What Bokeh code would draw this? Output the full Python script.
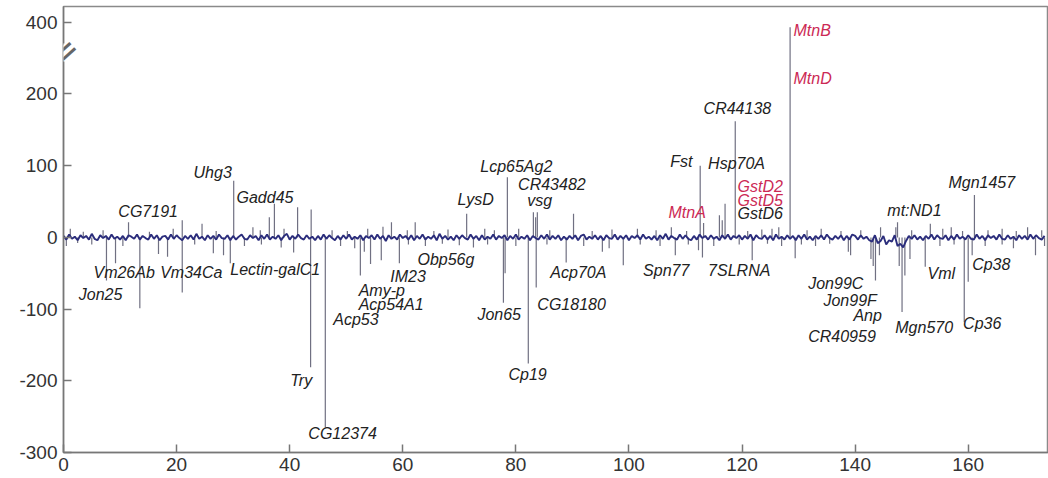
import numpy as np
from bokeh.plotting import figure
from bokeh.models import ColumnDataSource, FixedTicker, Label
from bokeh.core.properties import value
from bokeh.embed import file_html
from bokeh.resources import INLINE

# ---------------- data ----------------
# baseline noise (one value every half map unit, 0..173.5)
baseline_y = [
    2, -3, 4, -2, 1, -4, 3, -1, 2, -3, 5, -2, -4, 3, -1, 2, -3, 4, -2, 1,
    -3, 2, -4, 3, 1, -2, 4, -3, 2, -1, -3, 4, -2, 3, -4, 1, 2, -3, 4, -2,
    3, -1, -4, 2, -2, 3, -3, 5, -2, 1, -4, 3, -2, 2, -3, 4, -1, -2, 3, -4,
    2, -3, 1, 4, -2, -3, 3, -1, 2, -4, 3, -2, 4, -3, 1, -2, 3, -4, 2, 5,
    -3, 2, -2, 4, -1, -3, 3, -2, 1, -4, 2, -3, 4, -2, 3, -1, -4, 2, -3, 3,
    -2, 4, -3, 1, -2, 3, -4, 2, -1, 3, -3, 4, -2, 2, -5, 3, -2, 1, -3, 4,
    -1, 2, -3, 3, -4, 2, -2, 4, -3, 1, -2, 3, -4, 5, -2, 2, -3, 1, -4, 3,
    -2, 3, -1, -3, 4, -2, 2, -4, 3, -3, 1, -2, 4, -3, 2, -1, 3, -4, 2, -2,
    4, -3, 1, -2, 3, -4, 2, -1, -3, 3, -2, 4, -3, 2, -2, 3, -4, 1, -3, 2,
    -2, 3, -4, 2, 4, -3, 1, -2, 3, -3, 2, -4, 3, -1, -2, 4, -3, 2, -2, 3,
    -4, 2, -1, 3, -3, 4, -2, 1, -3, 2, -4, 3, -2, 5, -3, 2, -1, -3, 4, -2,
    3, -2, -4, 2, -3, 4, -1, 2, -3, 3, -2, 1, -4, 3, -2, 4, -3, 2, -1, 3,
    -3, 2, -2, 4, -4, 3, -1, -2, 3, -3, 2, -4, 4, -2, 1, -3, 3, -2, 2, -4,
    3, -2, 4, -3, 1, -4, 2, -2, 3, -3, 4, -1, -3, 2, -2, 3, -4, 2, -3, 4,
    2, -3, 3, -2, 1, -4, -6, 3, -8, -5, 2, -10, -4, -6, 3, -12, -9, -14, -5, 2,
    -2, 3, -3, 1, -4, 2, -2, 4, -3, 3, -1, -2, 3, -4, 2, -3, 4, -2, 1, -3,
    3, -2, -3, 4, -2, 2, -4, 3, -1, 2, -3, 4, -2, -3, 3, -2, 1, -4, 3, -2,
    2, -3, 4, -2, 3, -1, -3, 2,
]
baseline_x = [i / 2 for i in range(len(baseline_y))]

# up-regulated spikes (position, value)
up_x = [1.2, 3.5, 7.0, 11.5, 15.2, 19.4, 21.0, 24.5, 27.0, 30.1, 33.5, 34.8, 36.4, 37.3,
        39.0, 41.4, 43.8, 47.5, 50.2, 53.8, 56.5, 58.0, 60.8, 62.2, 65.5, 68.0, 71.3,
        74.5, 76.2, 78.5, 80.5, 83.1, 83.5, 83.8, 86.0, 90.2, 93.5, 97.0, 101.5, 104.8,
        107.5, 110.2, 112.6, 113.2, 116.0, 116.5, 117.0, 118.8, 121.0, 123.5, 125.3,
        126.5, 128.5, 131.5, 134.0, 137.5, 141.0, 144.5, 147.2, 147.5, 150.0, 153.3,
        155.5, 157.0, 159.0, 161.1, 163.5, 166.0, 168.5, 170.5, 173.0]
up_v = [12, 8, 10, 21, 8, 12, 24, 19, 9, 79, 14, 10, 28, 47,
        12, 42, 39, 10, 9, 12, 15, 21, 10, 21, 9, 11, 33,
        12, 10, 84, 12, 35, 28, 35, 10, 33, 9, 11, 12, 10,
        14, 9, 100, 20, 31, 24, 47, 162, 9, 11, 12,
        14, 386, 10, 12, 9, 10, 14, 14, 21, 10, 19,
        12, 14, 9, 59, 10, 12, 9, 14, 10]

# down-regulated spikes (position, value)
down_x = [0.5, 2.5, 5.0, 7.6, 9.2, 10.5, 13.5, 16.8, 18.4, 21.0, 23.2, 26.5, 28.3, 29.5,
          32.0, 35.0, 38.5, 40.7, 43.7, 46.3, 49.0, 51.5, 52.5, 53.2, 54.3, 56.2, 59.4,
          61.0, 64.0, 67.0, 70.0, 72.5, 75.0, 77.8, 78.1, 80.0, 82.2, 83.6, 85.5, 88.9,
          92.0, 95.3, 96.5, 99.0, 102.0, 105.5, 108.2, 110.5, 112.3, 113.0, 115.0, 119.5,
          121.8, 124.5, 127.0, 129.4, 130.5, 133.0, 135.5, 138.8, 139.2, 142.8, 143.2,
          143.6, 144.3, 147.8, 148.3, 148.8, 149.7, 152.4, 155.0, 157.5, 159.3, 160.0,
          160.7, 163.0, 166.0, 168.0, 171.9, 173.5]
down_v = [-12, -8, -10, -60, -36, -12, -99, -23, -27, -77, -10, -22, -25, -36,
          -12, -10, -14, -21, -181, -265, -12, -15, -53, -20, -37, -32, -36,
          -10, -12, -9, -11, -14, -10, -91, -50, -12, -176, -70, -10, -35,
          -12, -20, -15, -39, -10, -12, -25, -10, -18, -28, -12, -10,
          -32, -9, -12, -29, -10, -12, -9, -20, -25, -30, -40,
          -60, -25, -40, -104, -53, -30, -41, -12, -10, -118, -62,
          -25, -12, -10, -15, -25, -12]

# gene labels
gene_names = ["CG7191", "Uhg3", "Gadd45", "Vm26Ab", "Vm34Ca", "Jon25", "Lectin-galC1",
              "Try", "CG12374", "Obp56g", "IM23", "Amy-p", "Acp54A1", "Acp53", "LysD",
              "Lcp65Ag2", "CR43482", "vsg", "Jon65", "Cp19", "CG18180", "Acp70A", "Spn77",
              "Fst", "MtnA", "Hsp70A", "CR44138", "GstD2", "GstD5", "GstD6", "7SLRNA",
              "MtnB", "MtnD", "mt:ND1", "Mgn1457", "Jon99C", "Jon99F", "Anp", "CR40959",
              "Mgn570", "Vml", "Cp38", "Cp36"]
gene_x = [9.7, 23.0, 30.6, 5.3, 17.1, 2.7, 29.5,
          40.1, 43.3, 62.6, 57.8, 52.2, 52.2, 47.7, 69.7,
          73.7, 80.4, 82.0, 73.2, 78.7, 83.8, 86.1, 102.5,
          107.3, 107.0, 114.0, 113.2, 119.2, 119.2, 119.2, 114.0,
          129.1, 129.1, 145.7, 156.5, 131.7, 134.4, 139.7, 131.7,
          147.1, 152.8, 160.7, 159.1]
gene_y = [36, 91, 56, -49, -49, -80, -45,
          -199, -273, -31, -54, -74, -93, -114, 53,
          99, 74, 52, -107, -191, -93, -49, -46,
          106, 35, 103, 180, 71, 52, 33, -46,
          378, 244, 38, 77, -64, -88, -109, -138,
          -126, -50, -38, -120]
gene_metal = ["MtnA", "MtnB", "MtnD", "GstD2", "GstD5"]

y_ticks = [-300, -200, -100, 0, 100, 200, 400]

# ---------------- broken axis transform ----------------
def brk(v):
    v = np.asarray(v, dtype=float)
    return np.where(v > 200, 200 + (v - 200) / 2.0, v)

# ---------------- figure ----------------
p = figure(width=1048, height=478, x_range=(0, 174.2), y_range=(-300, 322),
           output_backend="svg", toolbar_location=None,
           min_border_left=63, min_border_right=0, min_border_top=6, min_border_bottom=26)
p.background_fill_color = "white"
p.border_fill_color = "white"
p.outline_line_color = "#8a8a8a"
p.outline_line_width = 1.5
p.xgrid.visible = False
p.ygrid.visible = False

SPIKE = "#707082"
NAVY = "#2b2d7c"

sx = up_x + down_x
sv = up_v + down_v
src = ColumnDataSource(dict(x=sx, y0=[0] * len(sx), y1=brk(sv)))
p.segment(x0="x", y0="y0", x1="x", y1="y1", source=src, line_color=SPIKE, line_width=1.2)

p.line(baseline_x, baseline_y, line_color=NAVY, line_width=1.9)

colors = ["#cc2a55" if g in gene_metal else "#222222" for g in gene_names]
lsrc = ColumnDataSource(dict(x=gene_x, y=brk(gene_y), t=gene_names, c=colors))
p.text(x="x", y="y", text="t", source=lsrc, text_color="c",
       text_font=value("Liberation Sans"), text_font_style="italic",
       text_font_size="16px", text_align="left", text_baseline="middle")

# axes
for ax in (p.xaxis[0], p.yaxis[0]):
    ax.axis_line_color = "#777777"
    ax.axis_line_width = 1.5
    ax.major_tick_line_color = "#777777"
    ax.major_tick_line_width = 1.5
    ax.major_tick_in = 8
    ax.major_tick_out = 0
    ax.minor_tick_line_color = None
    ax.major_label_text_font = "Liberation Sans"
    ax.major_label_text_font_size = "19px"
    ax.major_label_text_color = "#333333"

p.xaxis.ticker = FixedTicker(ticks=[0, 20, 40, 60, 80, 100, 120, 140, 160])
p.xaxis.major_label_standoff = 5
p.yaxis.ticker = FixedTicker(ticks=[float(t) for t in brk(y_ticks)])
p.yaxis.major_label_overrides = {float(b): str(t) for b, t in zip(brk(y_ticks), y_ticks)}
p.yaxis.major_label_standoff = 6

# axis break: small white gap in the axis line, then the slanted double mark
p.add_layout(Label(x=0, y=258, text="|", text_font="DejaVu Sans", text_font_size="15px",
                   text_color="white", text_align="center", text_baseline="middle",
                   background_fill_color="white"))
p.add_layout(Label(x=0, y=258, text="=", angle=42, angle_units="deg",
                   text_font="DejaVu Sans", text_font_size="36px",
                   text_color="#666666", text_align="center", text_baseline="middle"))

open("out.html", "w").write(file_html(p, INLINE))
